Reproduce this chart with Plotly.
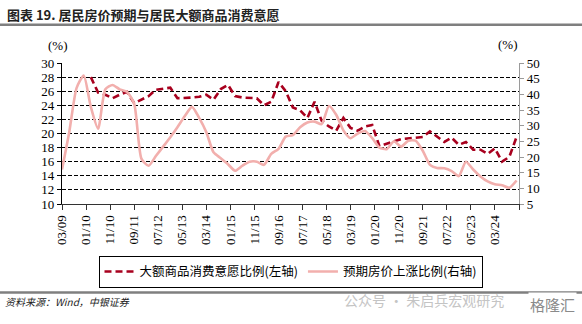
import plotly.graph_objects as go

# Quarterly survey observations, 2009Q1 - 2024Q4
quarters = [f"{y}-{m:02d}-01" for y in range(2009, 2025) for m in (3, 6, 9, 12)]

# 预期房价上涨比例 (right axis, %)
house_price_exp = [
    16.0, 28.0, 42.0, 46.0,
    36.0, 29.0, 41.6, 43.0,
    41.6, 40.8, 37.0, 19.5,
    17.2, 20.3, 23.3, 26.3,
    29.5, 33.0, 36.0, 32.5,
    28.0, 21.5, 19.6, 17.7,
    15.6, 17.2, 18.5, 18.5,
    17.5, 21.0, 22.6, 26.5,
    27.0, 29.5, 31.0, 31.3,
    30.5, 36.3, 33.5, 28.5,
    26.0, 27.5, 28.3, 26.0,
    23.0, 22.5, 25.0, 23.3,
    25.2, 25.2, 22.0, 17.5,
    16.5, 16.4, 15.5, 13.9,
    18.5, 16.0, 13.8, 12.2,
    11.3, 11.0, 10.2, 12.5,
]

# 大额商品消费意愿比例 (left axis, %), series begins 2010Q1
big_ticket_intent = [
    None, None, None, None,
    28.0, 25.8, 25.5, 25.0,
    25.5, 25.9, 24.3, 24.8,
    25.3, 26.2, 26.4, 26.5,
    25.0, 25.0, 25.1, 25.2,
    25.5, 24.8, 26.3, 26.9,
    25.3, 25.1, 25.0, 25.0,
    24.0, 24.5, 27.3, 26.0,
    23.7, 23.3, 22.2, 24.5,
    21.8, 21.0, 20.4, 22.2,
    20.8, 20.4, 21.0, 21.2,
    18.2, 18.6, 18.9, 19.2,
    19.3, 19.4, 19.5, 20.3,
    19.5, 18.8, 19.4, 18.4,
    18.8, 17.7, 17.7, 17.1,
    17.9, 16.0, 16.7, 19.5,
]

# x-axis tick positions every 10 months
tick_dates = ["2009-03-01", "2010-01-01", "2010-11-01", "2011-09-01", "2012-07-01",
              "2013-05-01", "2014-03-01", "2015-01-01", "2015-11-01", "2016-09-01",
              "2017-07-01", "2018-05-01", "2019-03-01", "2020-01-01", "2020-11-01",
              "2021-09-01", "2022-07-01", "2023-05-01", "2024-03-01", "2025-01-01"]
tick_labels = ["03/09", "01/10", "11/10", "09/11", "07/12", "05/13", "03/14", "01/15",
               "11/15", "09/16", "07/17", "05/18", "03/19", "01/20", "11/20", "09/21",
               "07/22", "05/23", "03/24", ""]

left_ticks = list(range(10, 31, 2))
right_ticks = list(range(5, 51, 5))

RED = "#A8001E"
PINK = "#F2AFAD"
SERIF = "Liberation Serif, Times New Roman, serif"
CJK = "Noto Sans CJK SC"

fig = go.Figure()
fig.add_trace(go.Scatter(
    x=quarters, y=big_ticket_intent, mode="lines",
    name="大额商品消费意愿比例(左轴)",
    line=dict(color=RED, width=2.6, dash="7px,4px"),
    yaxis="y",
))
fig.add_trace(go.Scatter(
    x=quarters, y=house_price_exp, mode="lines",
    name="预期房价上涨比例(右轴)",
    line=dict(color=PINK, width=2.6, shape="spline", smoothing=0.6),
    yaxis="y2",
))

fig.update_layout(
    width=582, height=324,
    margin=dict(l=62, r=63, t=63, b=120),
    paper_bgcolor="white", plot_bgcolor="white",
    showlegend=True,
    legend=dict(
        orientation="h", x=0.5, xanchor="center", y=-0.368, yanchor="top",
        bordercolor="black", borderwidth=1, bgcolor="white",
        font=dict(family=CJK, size=12.5, color="black"),
        itemwidth=30, tracegroupgap=0,
    ),
    xaxis=dict(
        type="date", range=["2009-03-01", "2025-01-01"],
        tickvals=tick_dates, ticktext=tick_labels, tickangle=-90,
        tickfont=dict(family=SERIF, size=13, color="black"),
        showgrid=False, zeroline=False,
        showline=True, linecolor="#333333", linewidth=1.3,
        ticks="outside", ticklen=5, tickcolor="#333333",
    ),
    yaxis=dict(
        range=[10, 30], tickvals=left_ticks,
        tickfont=dict(family=SERIF, size=13, color="black"),
        showgrid=True, gridcolor="black", gridwidth=1, griddash="4px,2px",
        zeroline=False,
        showline=True, linecolor="black", linewidth=1.3,
        ticks="outside", ticklen=4, tickcolor="black",
    ),
    yaxis2=dict(
        range=[5, 50], tickvals=right_ticks, overlaying="y", side="right",
        tickfont=dict(family=SERIF, size=13, color="black"),
        showgrid=False, zeroline=False,
        showline=True, linecolor="#9a9a9a", linewidth=1.3,
        ticks="outside", ticklen=4, tickcolor="#9a9a9a",
    ),
)

# header, unit labels, footer
fig.add_annotation(text="<b>图表 19. 居民房价预期与居民大额商品消费意愿</b>",
                   xref="paper", yref="paper", x=-0.125, y=1.3475,
                   xanchor="left", yanchor="middle", showarrow=False,
                   font=dict(family=CJK, size=13, color="#222222"))
fig.add_annotation(text="(%)", xref="paper", yref="paper", x=-0.009, y=1.121,
                   xanchor="center", yanchor="middle", showarrow=False,
                   font=dict(family=SERIF, size=13, color="black"))
fig.add_annotation(text="(%)", xref="paper", yref="paper", x=0.976, y=1.128,
                   xanchor="center", yanchor="middle", showarrow=False,
                   font=dict(family=SERIF, size=13, color="black"))
fig.add_annotation(text="<i>资料来源：Wind，中银证券</i>", xref="paper", yref="paper",
                   x=-0.13, y=-0.695, xanchor="left", yanchor="middle", showarrow=False,
                   font=dict(family=CJK, size=10, color="#222222"))
fig.add_annotation(text="公众号 · 朱启兵宏观研究", xref="paper", yref="paper",
                   x=0.613, y=-0.68, xanchor="left", yanchor="middle", showarrow=False,
                   font=dict(family=CJK, size=14, color="#c4c4c4"))
fig.add_annotation(text="格隆汇", xref="paper", yref="paper",
                   x=1.126, y=-0.71, xanchor="right", yanchor="middle", showarrow=False,
                   bgcolor="white",
                   font=dict(family=CJK, size=15, color="#8a8a8a"))

# horizontal rules under the header and above the footer
fig.add_shape(type="line", xref="paper", yref="paper",
              x0=-0.136, x1=1.138, y0=1.271, y1=1.271,
              line=dict(color="#7f7f7f", width=2.5))
fig.add_shape(type="line", xref="paper", yref="paper",
              x0=-0.136, x1=1.138, y0=-0.628, y1=-0.628,
              line=dict(color="#7f7f7f", width=2.5))

fig.write_html("out.html")
